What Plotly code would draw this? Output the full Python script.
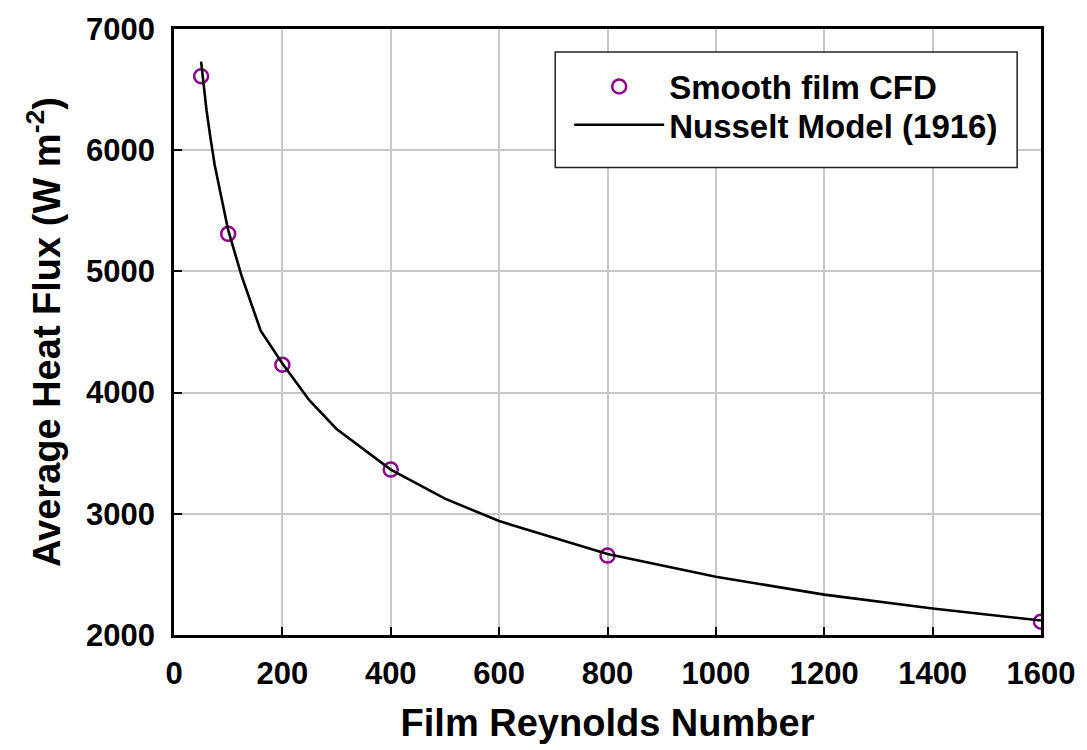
import plotly.graph_objects as go

# Smooth film CFD points
cfd_re = [50, 100, 200, 400, 800, 1600]
cfd_q = [6610, 5310, 4230, 3365, 2655, 2110]

# Nusselt model (1916) curve
nus_re = [50, 60, 67, 75, 100, 125, 160, 200, 250, 300, 400, 500, 600, 800, 1000, 1200, 1400, 1600]
nus_q = [6730, 6330, 6110, 5880, 5340, 4960, 4510, 4240, 3935, 3700, 3365, 3125, 2940, 2668, 2480, 2333, 2218, 2120]

x_ticks = [0, 200, 400, 600, 800, 1000, 1200, 1400, 1600]
y_ticks = [2000, 3000, 4000, 5000, 6000, 7000]

FONT = "Liberation Sans, Arial, sans-serif"
PURPLE = "#8B008B"

fig = go.Figure()
fig.add_trace(go.Scatter(
    x=cfd_re, y=cfd_q, mode="markers", name="Smooth film CFD",
    marker=dict(symbol="circle-open", size=14, color=PURPLE,
                line=dict(width=2.5, color=PURPLE)),
    legend="legend",
))
fig.add_trace(go.Scatter(
    x=nus_re, y=nus_q, mode="lines", name="Nusselt Model (1916)",
    line=dict(color="black", width=2.6),
    legend="legend2",
))

axis_common = dict(
    showline=True, linecolor="black", linewidth=2.5, mirror=True,
    ticks="inside", ticklen=8, tickwidth=2, tickcolor="black",
    showgrid=True, gridcolor="#c8c8c8", gridwidth=1.5,
    zeroline=False,
    tickfont=dict(family=FONT, size=31, color="black", weight="bold"),
)

fig.update_xaxes(
    range=[0, 1600], tickvals=x_ticks, ticktext=[str(v) for v in x_ticks],
    title=dict(text="Film Reynolds Number", standoff=20,
               font=dict(family=FONT, size=38, color="black", weight="bold")),
    ticklabelstandoff=9,
    **axis_common,
)
fig.update_yaxes(
    range=[2000, 7000], tickvals=y_ticks, ticktext=[str(v) for v in y_ticks],
    title=dict(text="Average Heat Flux (W m<sup>-2</sup>)", standoff=14,
               font=dict(family=FONT, size=38, color="black", weight="bold")),
    ticklabelstandoff=10,
    **axis_common,
)

legend_common = dict(
    xanchor="left", yanchor="middle",
    bgcolor="rgba(0,0,0,0)", borderwidth=0,
    font=dict(family=FONT, size=33, color="black", weight="bold"),
    itemwidth=90,
)

fig.update_layout(
    width=1087, height=750,
    margin=dict(l=174, r=42, t=29, b=113),
    paper_bgcolor="white", plot_bgcolor="white",
    showlegend=True,
    legend=dict(x=0.4558, y=0.905, **legend_common),
    legend2=dict(x=0.4558, y=0.842, **legend_common),
    shapes=[dict(
        type="rect", xref="paper", yref="paper",
        x0=0.4397, x1=0.9725, y0=0.7714, y1=0.9622,
        line=dict(color="#222222", width=1.5), fillcolor="white",
        layer="above",
    )],
)

fig.write_html("out.html")
